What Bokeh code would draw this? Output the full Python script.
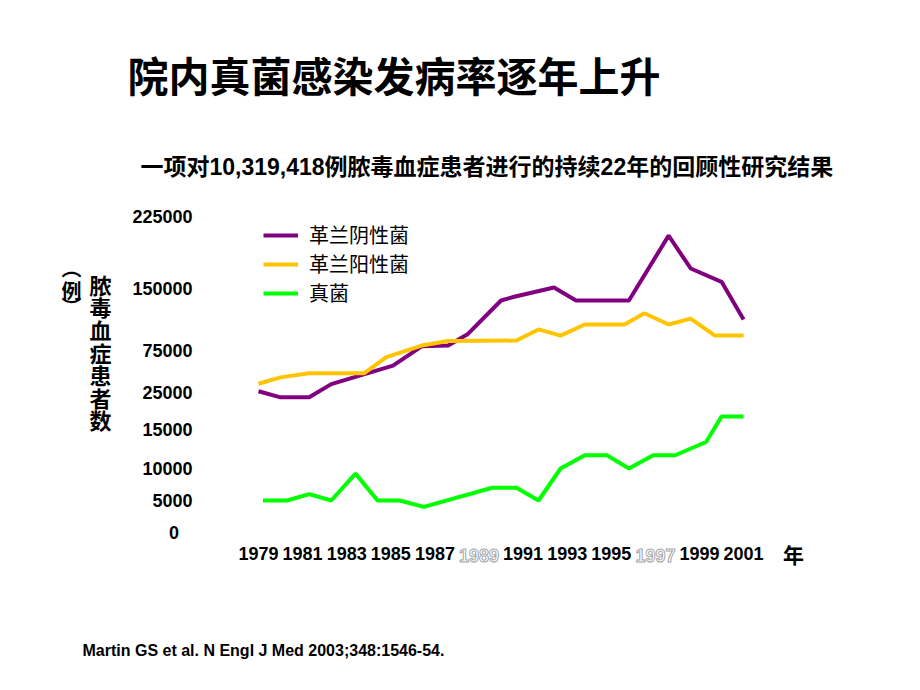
import numpy as np
from bokeh.plotting import figure
from bokeh.models import Range1d, FixedTicker, Label, Legend, LegendItem, ColumnDataSource
from bokeh.embed import file_html
from bokeh.resources import INLINE

# ---------------- texts ----------------
TITLE = "院内真菌感染发病率逐年上升"
SUBTITLE = "一项对10,319,418例脓毒血症患者进行的持续22年的回顾性研究结果"
SOURCE = "Martin GS et al. N Engl J Med 2003;348:1546-54."
SERIES_NAMES = ["革兰阴性菌", "革兰阳性菌", "真菌"]
Y_TITLE = "脓毒血症患者数"
Y_UNIT = "例"
X_UNIT = "年"

# ---------------- axes ----------------
X_TICK_YEARS = [1979, 1981, 1983, 1985, 1987, 1989, 1991, 1993, 1995, 1997, 1999, 2001]
FADED_YEARS = [1989, 1997]
Y_TICK_VALUES = [0, 5000, 10000, 15000, 25000, 75000, 150000, 225000]
# the original chart uses a broken (non-linear) value axis: axis position of each tick value
Y_TICK_AXIS_POS = [0, 32, 64, 103, 140, 182, 244, 315.5]

# ---------------- data ----------------
gn_years = [1979, 1980, 1981.3, 1982.3, 1983.7, 1985.1, 1986.4, 1987.6, 1988.5,
            1990.0, 1990.6, 1992.4, 1993.4, 1995.8, 1997.6, 1998.6, 2000.0, 2001.0]
gn_cases = [26500, 23700, 23700, 35000, 46000, 57000, 80000, 81000, 95000,
            135500, 140000, 151000, 135500, 135500, 205500, 171000, 157000, 112500]

gp_years = [1979, 1980, 1981.3, 1983.8, 1984.8, 1986.4, 1987.6, 1990.7, 1991.7,
            1992.7, 1993.8, 1995.6, 1996.5, 1997.6, 1998.6, 1999.7, 2001.0]
gp_cases = [35400, 43000, 48000, 48000, 67000, 81000, 86500, 87000, 100500,
            93000, 106500, 106500, 120000, 106500, 113500, 93000, 93000]

fungi_years = [1979.2, 1980.3, 1981.3, 1982.3, 1983.4, 1984.4, 1985.4, 1986.5, 1989.6,
               1990.7, 1991.7, 1992.7, 1993.8, 1994.8, 1995.8, 1996.9, 1997.9, 1999.3,
               2000.0, 2001.0]
fungi_cases = [5000, 5000, 6000, 5000, 9200, 5000, 5000, 4000, 7000,
               7000, 5000, 10000, 11700, 11700, 10000, 11700, 11700, 13400,
               18500, 18500]

COLORS = ["#800080", "#FFC400", "#00FF00"]


def to_axis(v):
    return np.interp(v, Y_TICK_VALUES, Y_TICK_AXIS_POS)


# ---------------- layout (canvas px) ----------------
W, H = 904, 674
X0_PX = 258            # canvas x of the first year
PX_PER_YEAR = 22.05
ZERO_PX = 532          # canvas y of value 0


def ax(cx):
    return X_TICK_YEARS[0] + (cx - X0_PX) / PX_PER_YEAR


def ay(cy):
    return ZERO_PX - cy


p = figure(width=W, height=H, output_backend="svg", toolbar_location=None,
           x_range=Range1d(ax(0), ax(W)), y_range=Range1d(ay(H), ay(0)),
           min_border=0, min_border_left=0, min_border_right=0,
           min_border_top=0, min_border_bottom=0)
p.grid.visible = False
p.outline_line_color = None
p.background_fill_color = "white"
p.border_fill_color = "white"

# y axis (drawn at a fixed place, left of the data area)
p.yaxis.fixed_location = ax(208)
p.yaxis.ticker = FixedTicker(ticks=Y_TICK_AXIS_POS)
p.yaxis.major_label_overrides = {pos: str(v) for pos, v in zip(Y_TICK_AXIS_POS, Y_TICK_VALUES)}
p.yaxis.major_label_overrides[0] = "0\u2007\u2009"
p.yaxis.axis_line_color = None
p.yaxis.major_tick_line_color = None
p.yaxis.minor_tick_line_color = None
p.yaxis.major_tick_out = 0
p.yaxis.major_tick_in = 0
p.yaxis.major_label_standoff = 16
p.yaxis.major_label_text_font = "Liberation Sans"
p.yaxis.major_label_text_font_style = "bold"
p.yaxis.major_label_text_font_size = "18px"
p.yaxis.major_label_text_color = "black"

# x axis
p.xaxis.fixed_location = ay(538)
p.xaxis.ticker = FixedTicker(ticks=X_TICK_YEARS)
p.xaxis.major_label_overrides = {y: ("" if y in FADED_YEARS else str(y)) for y in X_TICK_YEARS}
p.xaxis.axis_line_color = None
p.xaxis.major_tick_line_color = None
p.xaxis.minor_tick_line_color = None
p.xaxis.major_tick_out = 0
p.xaxis.major_tick_in = 0
p.xaxis.major_label_standoff = 8
p.xaxis.major_label_text_font = "Liberation Sans"
p.xaxis.major_label_text_font_style = "bold"
p.xaxis.major_label_text_font_size = "18px"
p.xaxis.major_label_text_color = "black"

# lines
renderers = []
for xs, ys, c in [(gn_years, gn_cases, COLORS[0]), (gp_years, gp_cases, COLORS[1]),
                  (fungi_years, fungi_cases, COLORS[2])]:
    src = ColumnDataSource(dict(x=xs, y=to_axis(ys)))
    r = p.line("x", "y", source=src, line_color=c, line_width=4)
    renderers.append(r)

legend = Legend(items=[LegendItem(label=n, renderers=[r]) for n, r in zip(SERIES_NAMES, renderers)],
                location=(263, H - 307), orientation="vertical",
                label_text_font="Noto Sans CJK SC", label_text_font_size="20px",
                label_text_color="black",
                glyph_width=35, glyph_height=26, label_height=26, label_standoff=11,
                spacing=0, padding=0, margin=0,
                border_line_color=None, background_fill_alpha=0)
p.add_layout(legend)

CJK = "Noto Sans CJK SC"

# titles and notes
p.add_layout(Label(x=ax(127), y=ay(73), text=TITLE, text_font=CJK, text_font_style="bold",
                   text_font_size="41px", text_align="left", text_baseline="middle",
                   text_color="black"))
p.add_layout(Label(x=ax(140), y=ay(166), text=SUBTITLE,
                   text_font="'Liberation Sans', 'Noto Sans CJK SC'", text_font_style="bold",
                   text_font_size="23px", text_align="left", text_baseline="middle",
                   text_color="black"))
p.add_layout(Label(x=ax(82), y=ay(650), text=SOURCE, text_font="Liberation Sans",
                   text_font_style="bold", text_font_size="16px", text_align="left",
                   text_baseline="middle", text_color="black"))
p.add_layout(Label(x=ax(793), y=ay(553), text=X_UNIT, text_font=CJK, text_font_style="bold",
                   text_font_size="21px", text_align="center", text_baseline="middle",
                   text_color="black"))

# faded tick labels
for yr in FADED_YEARS:
    p.add_layout(Label(x=yr, y=ay(554.5), text=str(yr), text_font="Liberation Sans",
                       text_font_style="bold", text_font_size="18px", text_align="center",
                       text_baseline="middle", text_color="white",
                       text_outline_color="#a6a6a6"))

# vertical y-axis title
for i, ch in enumerate(Y_TITLE):
    p.add_layout(Label(x=ax(100), y=ay(283.3 + 22.6 * i), text=ch, text_font=CJK,
                       text_font_style="bold", text_font_size="22px", text_align="center",
                       text_baseline="middle", text_color="black"))
for ch, cy in [("\uFE35", 267), (Y_UNIT, 290), ("\uFE36", 306)]:
    p.add_layout(Label(x=ax(71), y=ay(cy), text=ch, text_font=CJK, text_font_style="bold",
                       text_font_size="20px", text_align="center", text_baseline="middle",
                       text_color="black"))

open("out.html", "w").write(file_html(p, INLINE))
